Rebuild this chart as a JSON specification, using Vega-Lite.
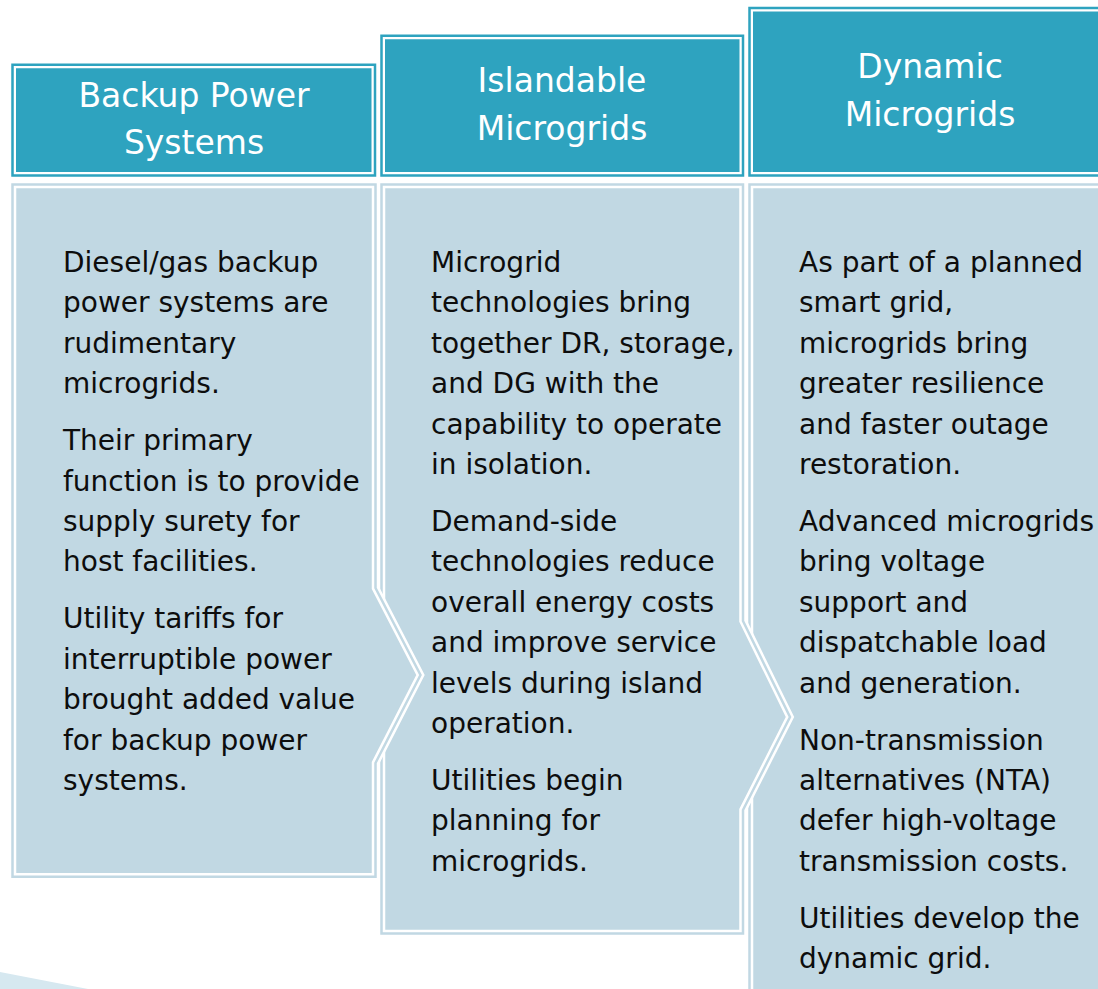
{
  "$schema": "https://vega.github.io/schema/vega-lite/v6.json",
  "width": 1098,
  "height": 989,
  "autosize": {"type": "fit", "contains": "padding"},
  "padding": 0,
  "background": "white",
  "config": {"view": {"stroke": null}},
  "datasets": {
    "headers": [
      {"col": 1, "x1": 12.5, "x2": 375, "y1": 64.8, "y2": 175.5},
      {"col": 2, "x1": 381.5, "x2": 743, "y1": 35.8, "y2": 175.5},
      {"col": 3, "x1": 749.5, "x2": 1104, "y1": 8, "y2": 175.5}
    ],
    "bodies": [
      {"col": 1, "y": 184.5, "x1": 12.5, "x2": 375.5},
      {"col": 1, "y": 588, "x1": 12.5, "x2": 375.5},
      {"col": 1, "y": 675, "x1": 12.5, "x2": 420.5},
      {"col": 1, "y": 763, "x1": 12.5, "x2": 375.5},
      {"col": 1, "y": 876.8, "x1": 12.5, "x2": 375.5},
      {"col": 2, "y": 184.5, "x1": 381.5, "x2": 743},
      {"col": 2, "y": 621, "x1": 381.5, "x2": 743},
      {"col": 2, "y": 717, "x1": 381.5, "x2": 790},
      {"col": 2, "y": 810, "x1": 381.5, "x2": 743},
      {"col": 2, "y": 933.5, "x1": 381.5, "x2": 743},
      {"col": 3, "y": 184.5, "x1": 749.5, "x2": 1104},
      {"col": 3, "y": 1000, "x1": 749.5, "x2": 1104}
    ],
    "wedge": [
      {"x": 0, "y": 972, "y2": 989},
      {"x": 88, "y": 989, "y2": 989}
    ],
    "titles": [
      {"tx": 194, "ty": 107, "text": "Backup Power"},
      {"tx": 194, "ty": 154, "text": "Systems"},
      {"tx": 562, "ty": 92, "text": "Islandable"},
      {"tx": 562, "ty": 140, "text": "Microgrids"},
      {"tx": 930, "ty": 78, "text": "Dynamic"},
      {"tx": 930, "ty": 126, "text": "Microgrids"}
    ],
    "lines": [
      {"tx": 63, "ty": 272, "text": "Diesel/gas backup"},
      {"tx": 63, "ty": 312.4, "text": "power systems are"},
      {"tx": 63, "ty": 352.8, "text": "rudimentary"},
      {"tx": 63, "ty": 393.2, "text": "microgrids."},
      {"tx": 63, "ty": 450.2, "text": "Their primary"},
      {"tx": 63, "ty": 490.6, "text": "function is to provide"},
      {"tx": 63, "ty": 531, "text": "supply surety for"},
      {"tx": 63, "ty": 571.4, "text": "host facilities."},
      {"tx": 63, "ty": 628.4, "text": "Utility tariffs for"},
      {"tx": 63, "ty": 668.8, "text": "interruptible power"},
      {"tx": 63, "ty": 709.2, "text": "brought added value"},
      {"tx": 63, "ty": 749.6, "text": "for backup power"},
      {"tx": 63, "ty": 790, "text": "systems."},
      {"tx": 431, "ty": 272, "text": "Microgrid"},
      {"tx": 431, "ty": 312.4, "text": "technologies bring"},
      {"tx": 431, "ty": 352.8, "text": "together DR, storage,"},
      {"tx": 431, "ty": 393.2, "text": "and DG with the"},
      {"tx": 431, "ty": 433.6, "text": "capability to operate"},
      {"tx": 431, "ty": 474, "text": "in isolation."},
      {"tx": 431, "ty": 531, "text": "Demand-side"},
      {"tx": 431, "ty": 571.4, "text": "technologies reduce"},
      {"tx": 431, "ty": 611.8, "text": "overall energy costs"},
      {"tx": 431, "ty": 652.2, "text": "and improve service"},
      {"tx": 431, "ty": 692.6, "text": "levels during island"},
      {"tx": 431, "ty": 733, "text": "operation."},
      {"tx": 431, "ty": 790, "text": "Utilities begin"},
      {"tx": 431, "ty": 830.4, "text": "planning for"},
      {"tx": 431, "ty": 870.8, "text": "microgrids."},
      {"tx": 799, "ty": 272, "text": "As part of a planned"},
      {"tx": 799, "ty": 312.4, "text": "smart grid,"},
      {"tx": 799, "ty": 352.8, "text": "microgrids bring"},
      {"tx": 799, "ty": 393.2, "text": "greater resilience"},
      {"tx": 799, "ty": 433.6, "text": "and faster outage"},
      {"tx": 799, "ty": 474, "text": "restoration."},
      {"tx": 799, "ty": 531, "text": "Advanced microgrids"},
      {"tx": 799, "ty": 571.4, "text": "bring voltage"},
      {"tx": 799, "ty": 611.8, "text": "support and"},
      {"tx": 799, "ty": 652.2, "text": "dispatchable load"},
      {"tx": 799, "ty": 692.6, "text": "and generation."},
      {"tx": 799, "ty": 749.6, "text": "Non-transmission"},
      {"tx": 799, "ty": 790, "text": "alternatives (NTA)"},
      {"tx": 799, "ty": 830.4, "text": "defer high-voltage"},
      {"tx": 799, "ty": 870.8, "text": "transmission costs."},
      {"tx": 799, "ty": 927.8, "text": "Utilities develop the"},
      {"tx": 799, "ty": 968.2, "text": "dynamic grid."}
    ]
  },
  "layer": [
    {
      "data": {"name": "wedge"},
      "mark": {"type": "area", "fill": "#d6e8f0", "clip": true},
      "encoding": {
        "x": {"field": "x", "type": "quantitative", "scale": {"domain": [0, 1098], "nice": false, "zero": false}, "axis": null},
        "y": {"field": "y", "type": "quantitative", "scale": {"domain": [0, 989], "nice": false, "zero": false, "reverse": true}, "axis": null},
        "y2": {"field": "y2"}
      }
    },
    {
      "data": {"name": "headers"},
      "layer": [
        {"mark": {"type": "rect", "fill": "#2ea3bf", "stroke": "white", "strokeWidth": 7, "clip": true}},
        {"mark": {"type": "rect", "fill": null, "fillOpacity": 0, "stroke": "#2ea3bf", "strokeWidth": 2.5, "clip": true}}
      ],
      "encoding": {
        "x": {"field": "x1", "type": "quantitative", "scale": {"domain": [0, 1098], "nice": false, "zero": false}, "axis": null},
        "x2": {"field": "x2"},
        "y": {"field": "y1", "type": "quantitative", "scale": {"domain": [0, 989], "nice": false, "zero": false, "reverse": true}, "axis": null},
        "y2": {"field": "y2"}
      }
    },
    {
      "data": {"name": "bodies"},
      "transform": [{"filter": "datum.col == 3"}],
      "layer": [
        {"mark": {"type": "area", "orient": "horizontal", "fill": "#c1d8e3", "stroke": "white", "strokeWidth": 7.5, "clip": true}},
        {"mark": {"type": "area", "orient": "horizontal", "fill": "#c1d8e3", "fillOpacity": 0, "stroke": "#c1d8e3", "strokeWidth": 2.5, "clip": true}}
      ],
      "encoding": {
        "y": {"field": "y", "type": "quantitative", "scale": {"domain": [0, 989], "nice": false, "zero": false, "reverse": true}, "axis": null},
        "x": {"field": "x1", "type": "quantitative", "scale": {"domain": [0, 1098], "nice": false, "zero": false}, "axis": null},
        "x2": {"field": "x2"}
      }
    },
    {
      "data": {"name": "bodies"},
      "transform": [{"filter": "datum.col == 2"}],
      "layer": [
        {"mark": {"type": "area", "orient": "horizontal", "fill": "#c1d8e3", "stroke": "white", "strokeWidth": 7.5, "clip": true}},
        {"mark": {"type": "area", "orient": "horizontal", "fill": "#c1d8e3", "fillOpacity": 0, "stroke": "#c1d8e3", "strokeWidth": 2.5, "clip": true}}
      ],
      "encoding": {
        "y": {"field": "y", "type": "quantitative", "scale": {"domain": [0, 989], "nice": false, "zero": false, "reverse": true}, "axis": null},
        "x": {"field": "x1", "type": "quantitative", "scale": {"domain": [0, 1098], "nice": false, "zero": false}, "axis": null},
        "x2": {"field": "x2"}
      }
    },
    {
      "data": {"name": "bodies"},
      "transform": [{"filter": "datum.col == 1"}],
      "layer": [
        {"mark": {"type": "area", "orient": "horizontal", "fill": "#c1d8e3", "stroke": "white", "strokeWidth": 7.5, "clip": true}},
        {"mark": {"type": "area", "orient": "horizontal", "fill": "#c1d8e3", "fillOpacity": 0, "stroke": "#c1d8e3", "strokeWidth": 2.5, "clip": true}}
      ],
      "encoding": {
        "y": {"field": "y", "type": "quantitative", "scale": {"domain": [0, 989], "nice": false, "zero": false, "reverse": true}, "axis": null},
        "x": {"field": "x1", "type": "quantitative", "scale": {"domain": [0, 1098], "nice": false, "zero": false}, "axis": null},
        "x2": {"field": "x2"}
      }
    },
    {
      "data": {"name": "titles"},
      "mark": {"type": "text", "font": "DejaVu Sans", "fontSize": 33, "color": "white", "align": "center", "baseline": "alphabetic"},
      "encoding": {
        "x": {"field": "tx", "type": "quantitative", "scale": {"domain": [0, 1098], "nice": false, "zero": false}, "axis": null},
        "y": {"field": "ty", "type": "quantitative", "scale": {"domain": [0, 989], "nice": false, "zero": false, "reverse": true}, "axis": null},
        "text": {"field": "text"}
      }
    },
    {
      "data": {"name": "lines"},
      "mark": {"type": "text", "font": "DejaVu Sans", "fontSize": 28, "color": "#0d0d0d", "align": "left", "baseline": "alphabetic"},
      "encoding": {
        "x": {"field": "tx", "type": "quantitative", "scale": {"domain": [0, 1098], "nice": false, "zero": false}, "axis": null},
        "y": {"field": "ty", "type": "quantitative", "scale": {"domain": [0, 989], "nice": false, "zero": false, "reverse": true}, "axis": null},
        "text": {"field": "text"}
      }
    }
  ]
}
